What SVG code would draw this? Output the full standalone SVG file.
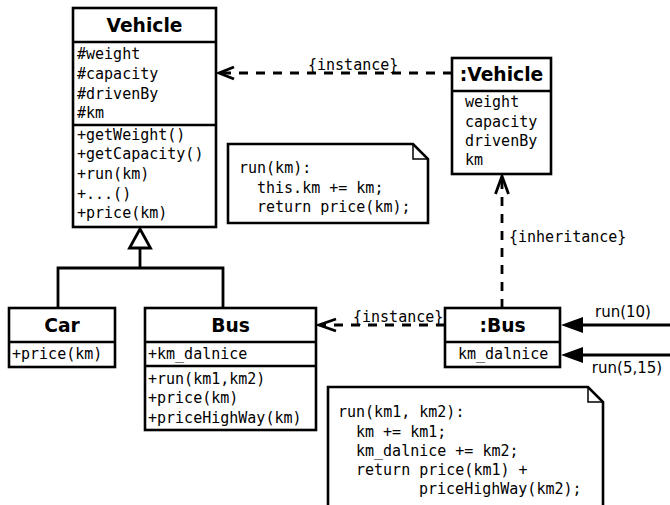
<svg xmlns="http://www.w3.org/2000/svg" width="670" height="505" viewBox="0 0 670 505">
<defs>
<style>
.box{fill:#fff;stroke:#000;stroke-width:2.6}
.sep{stroke:#000;stroke-width:2.6;fill:none}
.title{font-family:"DejaVu Sans",sans-serif;font-weight:bold;font-size:18.7px;text-anchor:middle;fill:#000}
.mono{font-family:"DejaVu Sans Mono",monospace;font-size:15px;fill:#000}
.sans{font-family:"DejaVu Sans",sans-serif;font-size:15px;fill:#000;text-anchor:middle}
.dash{stroke:#000;stroke-width:2.8;fill:none;stroke-dasharray:9 8}
.solid{stroke:#000;stroke-width:2.8;fill:none}
.fold{stroke:#000;stroke-width:1.5;fill:none}
</style>
</defs>
<rect width="670" height="505" fill="#fff"/>

<g id="connectors">
  <!-- generalization -->
  <polyline class="solid" points="58,308 58,268 223,268 223,308"/>
  <line class="solid" x1="140" y1="268" x2="140" y2="248"/>
  <polygon points="140,229 129.5,248 150.5,248" fill="#fff" stroke="#000" stroke-width="2.8"/>
  <!-- instance :Vehicle -> Vehicle -->
  <line class="dash" x1="452" y1="73" x2="222" y2="73"/>
  <polyline class="solid" points="234,67 219,73 234,79"/>
  <text class="mono" x="308" y="70">{instance}</text>
  <!-- inheritance :Bus -> :Vehicle -->
  <line class="dash" x1="502" y1="308" x2="502" y2="178"/>
  <polyline class="solid" points="495.5,194 502,176 508.5,194"/>
  <text class="mono" x="509" y="242">{inheritance}</text>
  <!-- instance :Bus -> Bus -->
  <line class="dash" x1="445" y1="325" x2="322" y2="325"/>
  <polyline class="solid" points="336,319 319,325 336,331"/>
  <text class="mono" x="353" y="322">{instance}</text>
  <!-- messages -->
  <line class="solid" x1="670" y1="325" x2="580" y2="325"/>
  <polygon points="561,325 583,317 583,333" fill="#000"/>
  <text class="sans" x="623" y="317">run(10)</text>
  <line class="solid" x1="670" y1="355" x2="580" y2="355"/>
  <polygon points="561,355 583,347 583,363" fill="#000"/>
  <text class="sans" x="627" y="373">run(5,15)</text>
</g>

<g id="Vehicle">
  <rect class="box" x="73" y="8" width="143" height="219"/>
  <line class="sep" x1="73" y1="42" x2="216" y2="42"/>
  <line class="sep" x1="73" y1="125" x2="216" y2="125"/>
  <text class="title" x="144.5" y="31.5">Vehicle</text>
  <text class="mono" x="77" y="59">#weight</text>
  <text class="mono" x="77" y="79">#capacity</text>
  <text class="mono" x="77" y="99">#drivenBy</text>
  <text class="mono" x="77" y="118">#km</text>
  <text class="mono" x="77" y="140">+getWeight()</text>
  <text class="mono" x="77" y="159">+getCapacity()</text>
  <text class="mono" x="77" y="179">+run(km)</text>
  <text class="mono" x="77" y="199">+...()</text>
  <text class="mono" x="77" y="218">+price(km)</text>
</g>

<g id="VehicleInstance">
  <rect class="box" x="452" y="58" width="99" height="116"/>
  <line class="sep" x1="452" y1="91" x2="551" y2="91"/>
  <text class="title" x="501.5" y="81">:Vehicle</text>
  <text class="mono" x="465" y="107">weight</text>
  <text class="mono" x="465" y="127">capacity</text>
  <text class="mono" x="465" y="146">drivenBy</text>
  <text class="mono" x="465" y="165">km</text>
</g>

<g id="note1">
  <polygon class="box" points="228,144 413,144 428,159 428,223 228,223"/>
  <polyline class="fold" points="413,144 413,159 428,159"/>
  <text class="mono" x="239" y="173">run(km):</text>
  <text class="mono" x="257" y="193">this.km += km;</text>
  <text class="mono" x="257" y="212">return price(km);</text>
</g>

<g id="Car">
  <rect class="box" x="9" y="308" width="106" height="59"/>
  <line class="sep" x1="9" y1="342" x2="115" y2="342"/>
  <text class="title" x="62" y="332">Car</text>
  <text class="mono" x="12" y="359">+price(km)</text>
</g>

<g id="Bus">
  <rect class="box" x="145" y="308" width="171" height="122"/>
  <line class="sep" x1="145" y1="342" x2="316" y2="342"/>
  <line class="sep" x1="145" y1="366" x2="316" y2="366"/>
  <text class="title" x="230.5" y="332">Bus</text>
  <text class="mono" x="148" y="359">+km_dalnice</text>
  <text class="mono" x="148" y="384">+run(km1,km2)</text>
  <text class="mono" x="148" y="403">+price(km)</text>
  <text class="mono" x="148" y="423">+priceHighWay(km)</text>
</g>

<g id="BusInstance">
  <rect class="box" x="445" y="308" width="115" height="59"/>
  <line class="sep" x1="445" y1="342" x2="560" y2="342"/>
  <text class="title" x="502.5" y="332">:Bus</text>
  <text class="mono" x="458" y="359">km_dalnice</text>
</g>

<g id="note2">
  <polygon class="box" points="328,510 328,387 588,387 603,402 603,510"/>
  <polyline class="fold" points="588,387 588,402 603,402"/>
  <text class="mono" x="338" y="417">run(km1, km2):</text>
  <text class="mono" x="356" y="437">km += km1;</text>
  <text class="mono" x="356" y="456">km_dalnice += km2;</text>
  <text class="mono" x="356" y="475">return price(km1) +</text>
  <text class="mono" x="419" y="494">priceHighWay(km2);</text>
</g>
</svg>
